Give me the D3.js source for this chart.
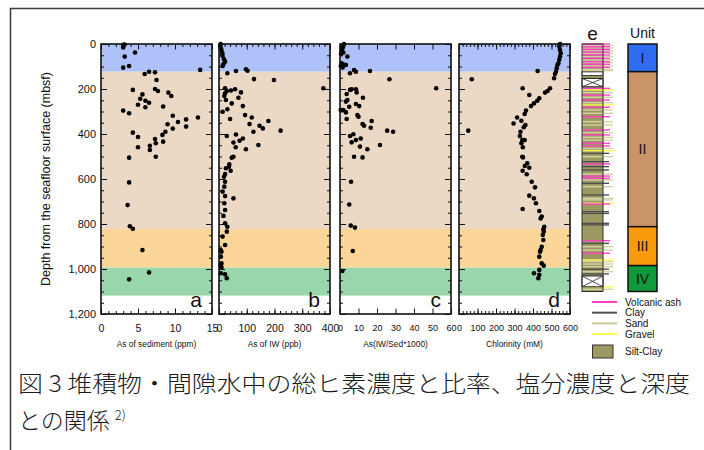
<!DOCTYPE html>
<html>
<head>
<meta charset="utf-8">
<script src="https://cdn.jsdelivr.net/npm/d3@7"></script>
<style>
  html, body { margin: 0; padding: 0; background: #fff; }
  svg { display: block; font-family: "Liberation Sans", Arial, sans-serif; }
</style>
</head>
<body>
<div id="chart"></div>
<script>
// ---- data: [value, depth mbsf] ----
const asSediment = [
  [3.0,15],[3.0,4],[3.2,2],[4.6,38],[3.2,56],[3.8,98],[3.0,105],[13.4,115],[5.9,133],[6.5,123],
  [7.3,126],[7.5,160],[7.3,200],[7.7,209],[4.3,204],[9.1,216],[9.5,231],[5.6,224],[5.3,243],[6.0,252],
  [6.5,261],[5.0,270],[6.0,281],[8.4,278],[3.0,296],[3.8,308],[9.7,319],[13.1,327],[11.5,335],[10.4,347],
  [9.0,357],[11.5,367],[9.7,376],[8.7,390],[8.3,404],[4.3,394],[5.0,413],[7.3,422],[8.4,434],[7.4,441],
  [6.6,452],[5.0,459],[6.6,471],[7.4,501],[3.8,505],[3.8,615],[3.6,716],[3.9,810],[4.3,821],[5.6,916],
  [6.5,1015],[3.8,1046]
]
const asPoreWater = [
  [6,0],[4,9],[7,19],[9,30],[12,41],[13,53],[18,68],[22,79],[16,89],[13,98],
  [30,130],[61,120],[97,112],[103,119],[126,156],[198,160],[376,197],[22,197],[28,209],[43,207],
  [58,201],[79,215],[70,239],[22,219],[19,231],[25,249],[46,264],[86,276],[30,290],[13,301],
  [94,316],[118,327],[40,333],[110,356],[146,363],[158,375],[178,342],[124,390],[222,385],[28,409],
  [61,402],[86,420],[74,430],[52,438],[60,459],[142,449],[97,468],[52,501],[46,505],[37,535],
  [36,545],[25,552],[42,563],[22,578],[18,590],[22,612],[19,634],[13,656],[22,676],[52,686],
  [19,708],[22,738],[16,764],[22,797],[30,812],[28,834],[13,856],[22,893],[6,916],[9,923],
  [7,945],[9,975],[6,982],[9,993],[7,1019],[22,1024],[28,1041]
]
const asRatio = [
  [2.2,0],[1.8,9],[1.3,19],[0.9,30],[1.8,38],[0.5,44],[4.0,56],[0.9,86],[2.7,92],[0.4,98],
  [1.4,104],[3.2,93],[5.4,130],[7.6,116],[8.6,123],[16.2,120],[26.7,157],[52,197],[5.4,204],[6.3,201],
  [8.6,201],[9.0,215],[3.6,222],[12.4,239],[4.0,249],[3.2,256],[8.6,267],[10.4,276],[5.0,279],[0.4,293],
  [1.8,293],[3.2,304],[9.4,316],[10.0,323],[3.6,333],[17.1,342],[12.2,356],[13.0,363],[16.6,372],[25.5,385],
  [28.7,390],[7.2,401],[5.4,409],[11.2,420],[8.6,427],[6.3,437],[21.6,449],[10.8,456],[14.8,468],[7.6,501],
  [12.2,504],[6.0,612],[5.0,713],[5.8,807],[8.1,816],[6.9,920],[1.3,1009]
]
const chlorinity = [
  [546,0],[542,12],[546,27],[550,41],[546,56],[542,70],[537,86],[532,93],[528,108],[524,123],
  [519,133],[514,152],[425,120],[69,157],[492,197],[479,209],[465,216],[344,197],[380,227],[434,241],
  [423,252],[405,264],[389,276],[362,296],[355,311],[314,327],[337,341],[295,353],[359,360],[350,370],
  [50,385],[332,390],[329,409],[342,427],[355,427],[337,441],[345,459],[342,501],[346,504],[369,530],
  [380,550],[356,542],[344,563],[366,579],[393,612],[411,637],[380,674],[405,686],[416,708],[344,733],
  [434,742],[447,767],[441,775],[461,812],[456,824],[458,834],[453,849],[456,871],[447,901],[441,916],
  [438,923],[434,945],[447,975],[458,985],[434,1004],[405,1019],[434,1026],[429,1041]
]

// ---- axes and labels ----
const depthTicks = [0, 200, 400, 600, 800, 1000, 1200]
const sedTicks = [0, 5, 10, 15]
const iwTicks = [0, 100, 200, 300, 400]
const ratioTicks = [0, 10, 20, 30, 40, 50, 60]
const clTicks = [0, 100, 200, 300, 400, 500, 600]
const panelTitles = ['As of sediment (ppm)', 'As of IW (ppb)', 'As(IW/Sed*1000)', 'Chlorinity (mM)']
const panelLetters = ['a', 'b', 'c', 'd']

// ---- units ----
const unitNames = ['I', 'II', 'III', 'IV']
const bandDepths = [0, 123, 822, 994, 1118]   // bands behind panels a-d
const unitDepths = [0, 123, 812, 985, 1100]   // unit column on the right

// ---- lithology column e (depth mbsf of each thin layer) ----
const volcanicAsh = [0,12,24,36,49,64,79,90,104,197,227,249,281,323,382,404,441,453,533,587,597,711,874,930]
const sandLayers = [6,18,30,41,56,71,83,98,113,119,216,237,261,293,308,345,360,394,415,427,464,501,578,604,634,686,693,901,916,967,978,990,1012,1090]
const gravelLayers = [204,271,474,708,960,1079]
const clayLayers = [486,523,545,560,619,671,745,753,797,804,886,1001,1022]
const noRecovery = [[153, 190], [1031, 1079]]
const legendItems = ['Volcanic ash', 'Clay', 'Sand', 'Gravel']

// ---- styles ----
const bandColors = ['#aec1f8', '#ebd8c5', '#fcd598', '#9ad6ac']
const unitColors = ['#2f6cf0', '#c99466', '#f89a0c', '#0f9a3b']
const lithColors = { ash: '#ff3fc8', clay: '#505050', sand: '#d4d3a4', gravel: '#ffff55' }

const W = 704, H = 450
const svg = d3.select('#chart').append('svg').attr('width', W).attr('height', H)

// frame around the figure
svg.append('path')
  .attr('d', `M10.5,${H} V8.5 H${W}`)
  .attr('fill', 'none').attr('stroke', '#3a3a3a').attr('stroke-width', 1.5)

const y = d3.scaleLinear().domain([0, 1200]).range([44, 314])
const panelW = 111

const panels = [
  { data: asSediment, ticks: sedTicks, minor: 1, left: 101, font: 10.5 },
  { data: asPoreWater, ticks: iwTicks, minor: 20, left: 219, font: 10.5 },
  { data: asRatio, ticks: ratioTicks, minor: 0, left: 340, font: 9 },
  { data: chlorinity, ticks: clTicks, minor: 20, left: 459, font: 9 }
]

panels.forEach((p, i) => {
  const lo = p.ticks[0], hi = p.ticks[p.ticks.length - 1]
  const x = d3.scaleLinear().domain([lo, hi]).range([p.left, p.left + panelW])
  const g = svg.append('g')

  // unit bands
  g.selectAll('rect.band')
    .data(unitNames)
    .join('rect')
    .attr('x', p.left).attr('width', panelW)
    .attr('y', (d, k) => y(bandDepths[k]))
    .attr('height', (d, k) => y(bandDepths[k + 1]) - y(bandDepths[k]))
    .attr('fill', (d, k) => bandColors[k])

  // points
  g.selectAll('circle')
    .data(p.data)
    .join('circle')
    .attr('cx', d => x(d[0])).attr('cy', d => y(d[1]))
    .attr('r', 2.3).attr('fill', '#000')

  // minor ticks (top & bottom)
  if (p.minor) {
    const minorVals = d3.range(lo, hi + 1e-9, p.minor)
    g.append('g').attr('transform', `translate(0,${y(1200)})`)
      .call(d3.axisBottom(x).tickValues(minorVals).tickSize(-3).tickFormat(''))
    g.append('g').attr('transform', `translate(0,${y(0)})`)
      .call(d3.axisTop(x).tickValues(minorVals).tickSize(-3).tickFormat(''))
  }
  // major ticks with labels
  g.append('g').attr('class', 'xaxis').attr('transform', `translate(0,${y(1200)})`)
    .call(d3.axisBottom(x).tickValues(p.ticks).tickSize(-5.5).tickPadding(11))
    .selectAll('text').attr('font-size', p.font)
  g.append('g').attr('transform', `translate(0,${y(0)})`)
    .call(d3.axisTop(x).tickValues(p.ticks).tickSize(-5.5).tickFormat(''))

  // depth ticks left & right
  const minorDepth = d3.range(0, 1201, 50)
  g.append('g').attr('transform', `translate(${p.left},0)`)
    .call(d3.axisLeft(y).tickValues(minorDepth).tickSize(-3).tickFormat(''))
  g.append('g').attr('transform', `translate(${p.left + panelW},0)`)
    .call(d3.axisRight(y).tickValues(minorDepth).tickSize(-3).tickFormat(''))
  const leftAxis = d3.axisLeft(y).tickValues(depthTicks).tickSize(-6).tickPadding(5)
  if (i > 0) leftAxis.tickFormat('')
  g.append('g').attr('class', 'yaxis').attr('transform', `translate(${p.left},0)`)
    .call(leftAxis)
    .selectAll('text').attr('font-size', 11)
  g.append('g').attr('transform', `translate(${p.left + panelW},0)`)
    .call(d3.axisRight(y).tickValues(depthTicks).tickSize(-6).tickFormat(''))

  g.selectAll('.domain').remove()
  g.selectAll('.tick line').attr('stroke', '#111').attr('stroke-width', 1)
  g.selectAll('.tick text').attr('fill', '#111').attr('font-family', '"Liberation Sans", Arial, sans-serif')

  // frame
  g.append('rect')
    .attr('x', p.left).attr('y', y(0))
    .attr('width', panelW).attr('height', y(1200) - y(0))
    .attr('fill', 'none').attr('stroke', '#111').attr('stroke-width', 1.6)

  // panel letter
  g.append('text')
    .attr('x', p.left + panelW - 10).attr('y', y(1200) - 7)
    .attr('text-anchor', 'end').attr('font-size', 21).attr('fill', '#111')
    .text(panelLetters[i])

  // x title
  g.append('text')
    .attr('x', p.left + panelW / 2).attr('y', 347)
    .attr('text-anchor', 'middle').attr('font-size', 8.4).attr('fill', '#111')
    .text(panelTitles[i])
})

// y title
svg.append('text')
  .attr('transform', `translate(50,${(y(0) + y(1200)) / 2}) rotate(-90)`)
  .attr('text-anchor', 'middle').attr('font-size', 12.5).attr('fill', '#111')
  .text('Depth from the seafloor surface (mbsf)')

// ---- lithology column e ----
const lith = svg.append('g')
const colL = 582, colR = 603
lith.append('rect')
  .attr('x', colL).attr('y', y(0))
  .attr('width', colR - colL).attr('height', y(1100) - y(0))
  .attr('fill', '#9c9a62')

const layerSets = [
  { depths: sandLayers, color: lithColors.sand, end: 613 },
  { depths: clayLayers, color: lithColors.clay, end: 609 },
  { depths: gravelLayers, color: lithColors.gravel, end: 614 },
  { depths: volcanicAsh, color: lithColors.ash, end: 610 }
]
layerSets.forEach(s => {
  lith.selectAll(null)
    .data(s.depths)
    .join('line')
    .attr('x1', colL).attr('x2', s.end)
    .attr('y1', d => y(d)).attr('y2', d => y(d))
    .attr('stroke', s.color).attr('stroke-width', 1.4)
})
// small white gap at the unit I/II boundary
lith.append('rect')
  .attr('x', colL).attr('y', y(124)).attr('width', colR - colL).attr('height', y(140) - y(124))
  .attr('fill', '#fff').attr('stroke', '#222').attr('stroke-width', 0.8)
noRecovery.forEach(([t, b]) => {
  const gx = lith.append('g')
  gx.append('rect')
    .attr('x', colL).attr('y', y(t)).attr('width', colR - colL).attr('height', y(b) - y(t))
    .attr('fill', '#fff').attr('stroke', '#222').attr('stroke-width', 1)
  gx.append('path')
    .attr('d', `M${colL},${y(t)} L${colR},${y(b)} M${colR},${y(t)} L${colL},${y(b)}`)
    .attr('stroke', '#222').attr('stroke-width', 0.8)
})
lith.append('rect')
  .attr('x', colL).attr('y', y(0))
  .attr('width', colR - colL).attr('height', y(1100) - y(0))
  .attr('fill', 'none').attr('stroke', '#333').attr('stroke-width', 1)
lith.append('text')
  .attr('x', (colL + colR) / 2).attr('y', 40)
  .attr('text-anchor', 'middle').attr('font-size', 19).attr('fill', '#111')
  .text('e')

// ---- unit column ----
const unitL = 628, unitW = 29
const units = svg.append('g')
units.selectAll('rect')
  .data(unitNames)
  .join('rect')
  .attr('x', unitL).attr('width', unitW)
  .attr('y', (d, k) => y(unitDepths[k]))
  .attr('height', (d, k) => y(unitDepths[k + 1]) - y(unitDepths[k]))
  .attr('fill', (d, k) => unitColors[k])
  .attr('stroke', '#111').attr('stroke-width', 1.5)
units.selectAll('text.unit')
  .data(unitNames)
  .join('text')
  .attr('x', unitL + unitW / 2)
  .attr('y', (d, k) => (y(unitDepths[k]) + y(unitDepths[k + 1])) / 2 + 5)
  .attr('text-anchor', 'middle').attr('font-size', 14).attr('fill', '#111')
  .text(d => d)
units.append('text')
  .attr('x', unitL + unitW / 2).attr('y', 38)
  .attr('text-anchor', 'middle').attr('font-size', 14).attr('fill', '#111')
  .text('Unit')

// ---- legend ----
const legend = svg.append('g')
const legendColors = [lithColors.ash, lithColors.clay, '#c9c89a', lithColors.gravel]
const legendY = d3.scalePoint().domain(legendItems).range([302, 334])
legend.selectAll('line')
  .data(legendItems)
  .join('line')
  .attr('x1', 592).attr('x2', 617)
  .attr('y1', d => legendY(d)).attr('y2', d => legendY(d))
  .attr('stroke', (d, k) => legendColors[k]).attr('stroke-width', 2)
legend.selectAll('text')
  .data(legendItems)
  .join('text')
  .attr('x', 625).attr('y', d => legendY(d) + 3.5)
  .attr('font-size', 10).attr('fill', '#111')
  .text(d => d)
legend.append('rect')
  .attr('x', 592.5).attr('y', 345).attr('width', 20.5).attr('height', 13)
  .attr('fill', '#9c9a62').attr('stroke', '#333').attr('stroke-width', 1)
legend.append('text')
  .attr('x', 625).attr('y', 355).attr('font-size', 10).attr('fill', '#111')
  .text('Silt-Clay')

// ---- caption ----
const caption = svg.append('g')
  .attr('font-family', '"Noto Sans CJK JP", "Noto Sans CJK SC", sans-serif')
  .attr('font-weight', 300)
  .attr('fill', '#1a1a1a')
caption.append('text')
  .attr('x', 18).attr('y', 392).attr('font-size', 23)
  .attr('textLength', 672).attr('lengthAdjust', 'spacingAndGlyphs')
  .text('図 3 堆積物・間隙水中の総ヒ素濃度と比率、塩分濃度と深度')
const line2 = caption.append('text')
  .attr('x', 18).attr('y', 429).attr('font-size', 23)
line2.append('tspan').text('との関係 ')
line2.append('tspan').attr('font-size', 13).attr('dy', -9).text('2)')
</script>
</body>
</html>
